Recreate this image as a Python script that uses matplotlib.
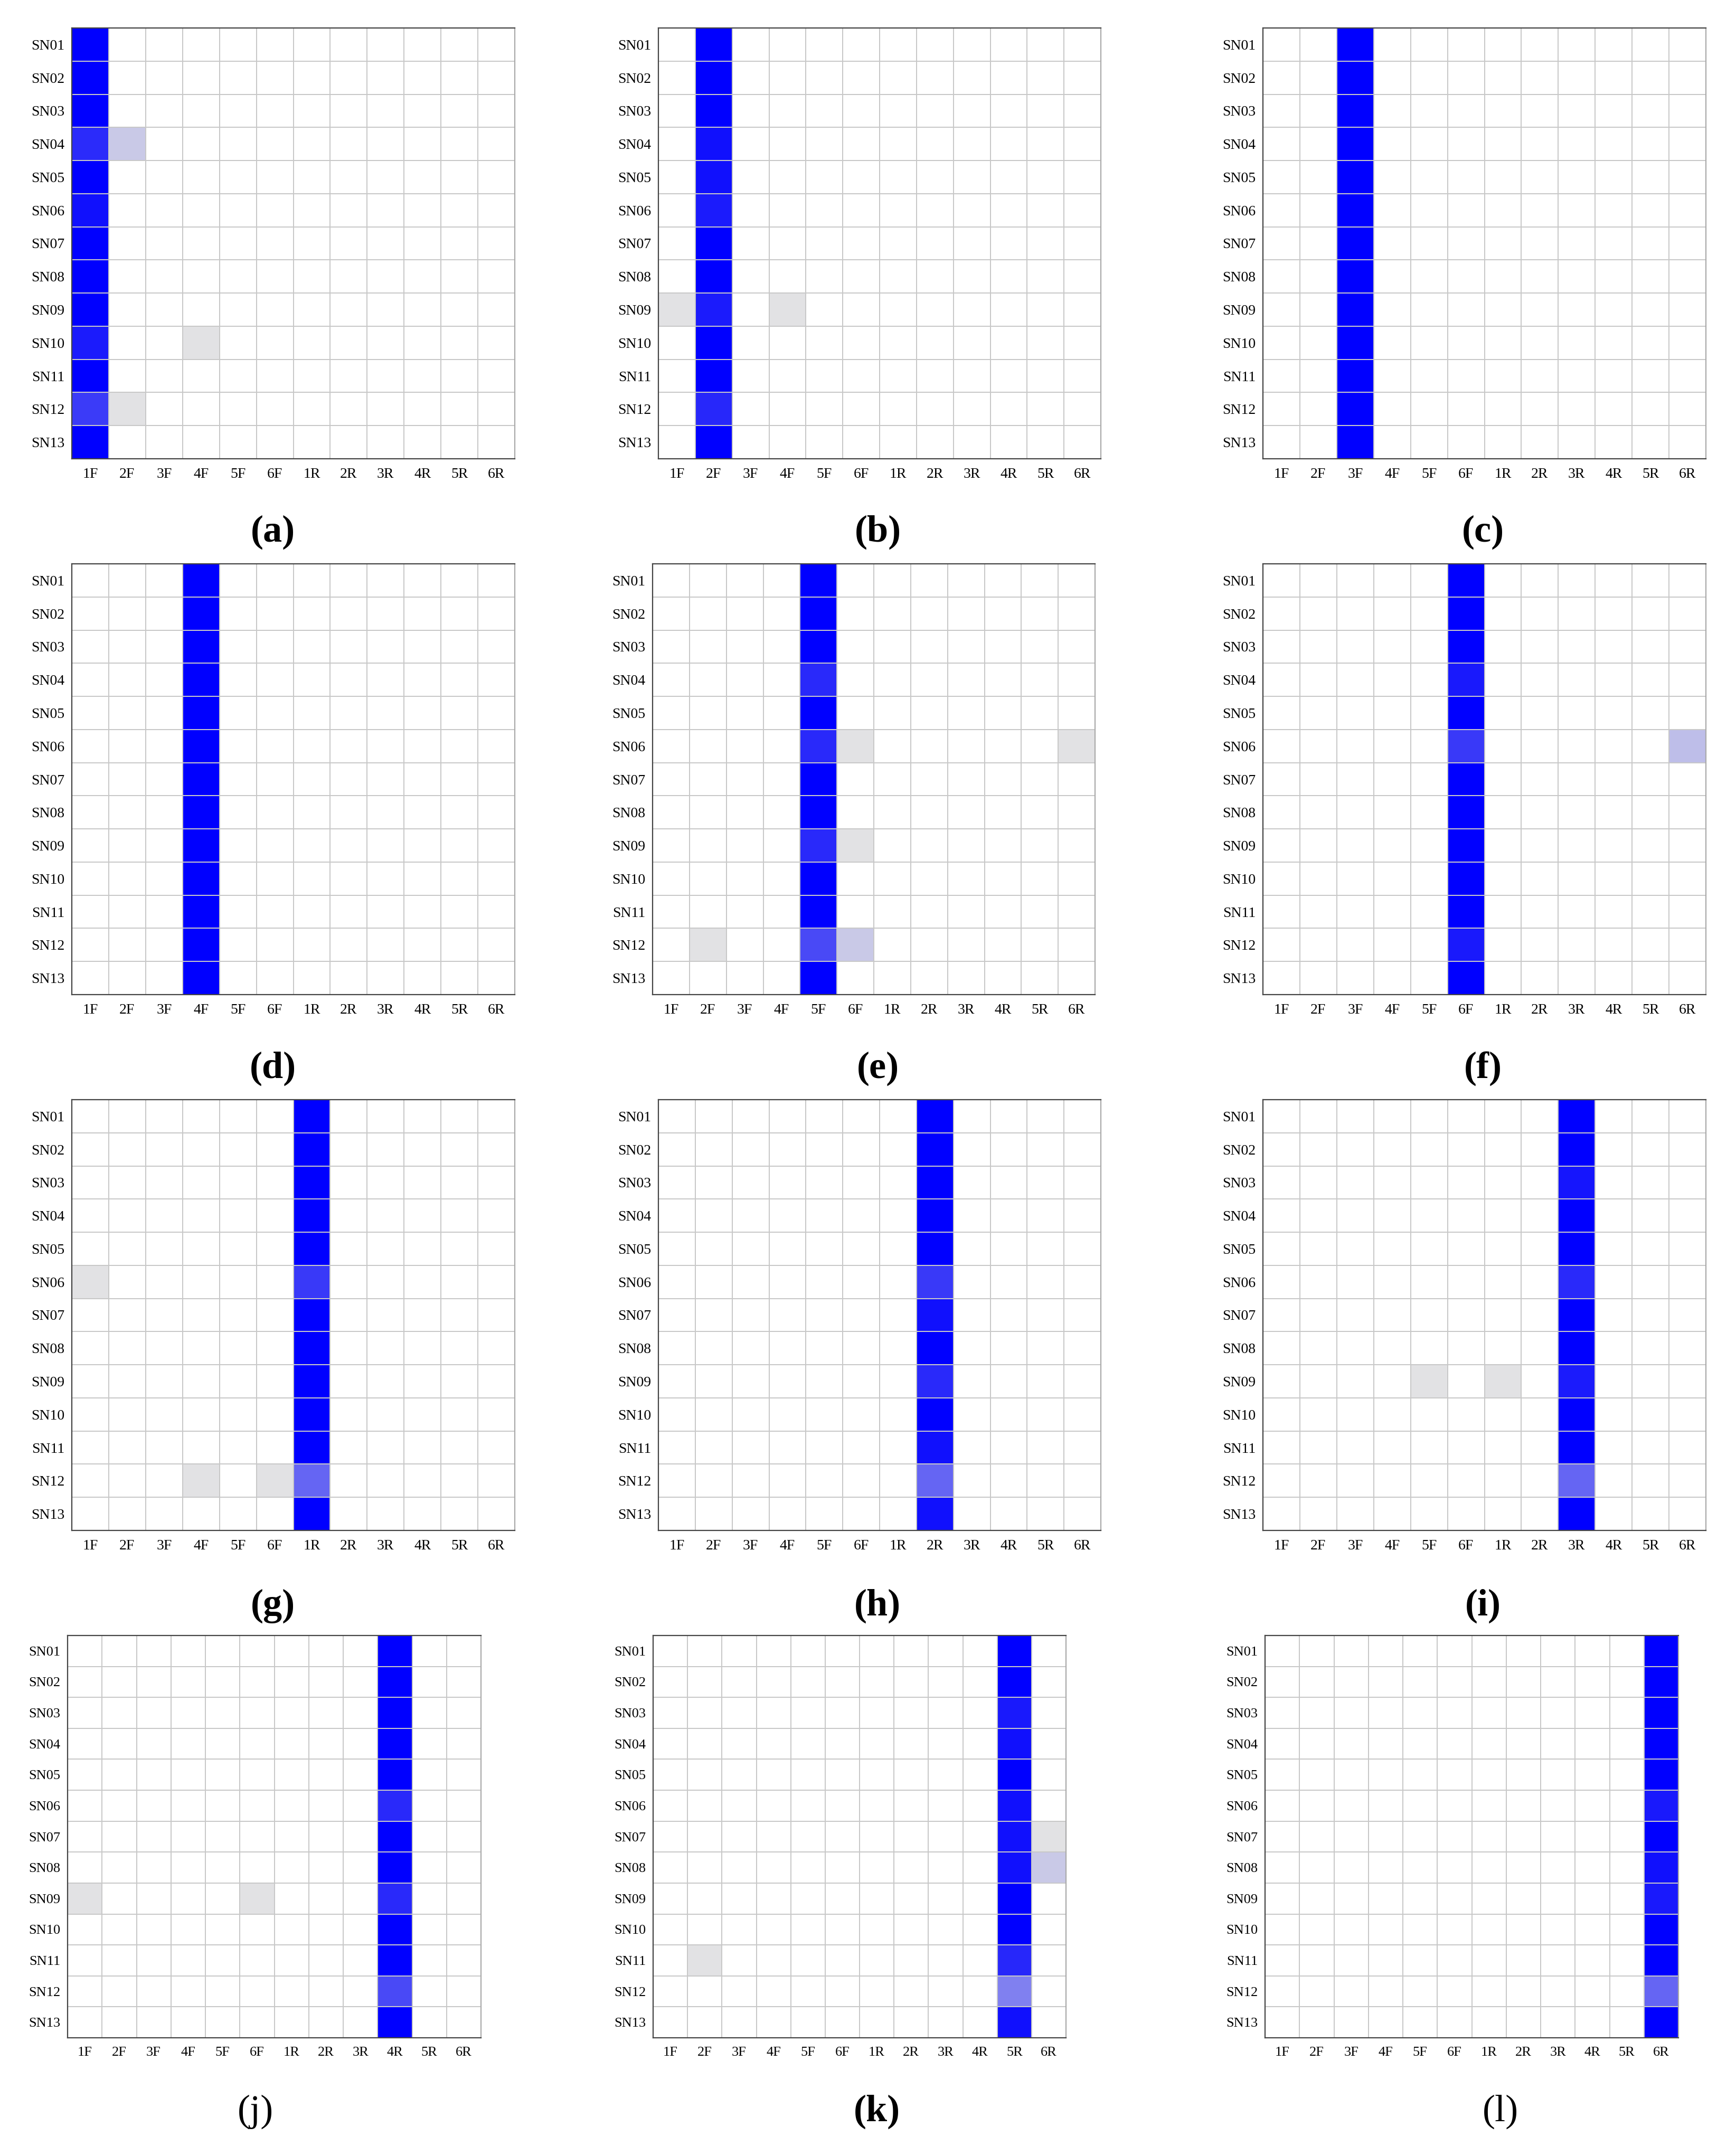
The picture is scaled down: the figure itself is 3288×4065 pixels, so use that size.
import numpy as np
import matplotlib
matplotlib.use('Agg')
import matplotlib.pyplot as plt
from matplotlib.colors import LinearSegmentedColormap

rows = ['SN01', 'SN02', 'SN03', 'SN04', 'SN05', 'SN06', 'SN07',
        'SN08', 'SN09', 'SN10', 'SN11', 'SN12', 'SN13']
cols = ['1F', '2F', '3F', '4F', '5F', '6F', '1R', '2R', '3R', '4R', '5R', '6R']

# main (true class) column per panel, SN01..SN13
main_a = [1, 1, 1, .81, 1, .93, 1, 1, 1, .88, 1, .74, 1]
main_b = [1, 1, 1, .93, .93, .88, 1, 1, .88, 1, 1, .83, 1]
main_c = [1, 1, 1, 1, 1, 1, 1, 1, 1, 1, 1, 1, 1]
main_d = [1, 1, 1, 1, 1, 1, 1, 1, 1, 1, 1, 1, 1]
main_e = [1, 1, 1, .82, 1, .82, 1, 1, .82, 1, 1, .68, 1]
main_f = [1, 1, 1, .89, 1, .75, 1, 1, 1, 1, 1, .89, 1]
main_g = [1, 1, 1, 1, 1, .75, 1, 1, 1, 1, 1, .56, 1]
main_h = [1, 1, 1, 1, 1, .75, .93, 1, .82, 1, .93, .56, .93]
main_i = [1, 1, .91, 1, 1, .82, 1, 1, .88, 1, 1, .56, 1]
main_j = [1, 1, 1, 1, 1, .82, 1, 1, .82, 1, 1, .68, 1]
main_k = [1, 1, .89, .93, 1, .93, .93, .93, 1, 1, .83, .44, .93]
main_l = [1, 1, 1, 1, 1, .89, 1, .93, .89, 1, 1, .56, 1]

# misclassified cells (row, predicted column, value)
extra_a = [('SN04', '2F', .12), ('SN10', '4F', .01), ('SN12', '2F', .01)]
extra_b = [('SN09', '1F', .01), ('SN09', '4F', .01)]
extra_c = []
extra_d = []
extra_e = [('SN06', '6F', .01), ('SN06', '6R', .01), ('SN09', '6F', .01),
           ('SN12', '2F', .01), ('SN12', '6F', .12)]
extra_f = [('SN06', '6R', .17)]
extra_g = [('SN06', '1F', .01), ('SN12', '4F', .01), ('SN12', '6F', .01)]
extra_h = []
extra_i = [('SN09', '5F', .01), ('SN09', '1R', .01)]
extra_j = [('SN09', '1F', .01), ('SN09', '6F', .01)]
extra_k = [('SN07', '6R', .01), ('SN08', '6R', .12), ('SN11', '2F', .01)]
extra_l = []

panels = [
    ('(a)', '1F', main_a, extra_a), ('(b)', '2F', main_b, extra_b),
    ('(c)', '3F', main_c, extra_c), ('(d)', '4F', main_d, extra_d),
    ('(e)', '5F', main_e, extra_e), ('(f)', '6F', main_f, extra_f),
    ('(g)', '1R', main_g, extra_g), ('(h)', '2R', main_h, extra_h),
    ('(i)', '3R', main_i, extra_i), ('(j)', '4R', main_j, extra_j),
    ('(k)', '5R', main_k, extra_k), ('(l)', '6R', main_l, extra_l),
]

# axes boxes in pixels: left, top, right, bottom
boxes = [
    (136, 53, 975, 869), (1247, 53, 2085, 869), (2392, 53, 3231, 869),
    (136, 1068, 975, 1884), (1236, 1068, 2074, 1884), (2392, 1068, 3231, 1884),
    (136, 2083, 975, 2899), (1247, 2083, 2085, 2899), (2392, 2083, 3231, 2899),
    (128, 3098, 911, 3860), (1237, 3098, 2019, 3860), (2396, 3098, 3179, 3860),
]
label_pos = [(517, 1008), (1663, 1008), (2809, 1008),
             (517, 2024), (1663, 2024), (2809, 2024),
             (517, 3042), (1662, 3042), (2809, 3042),
             (484, 4000), (1661, 4000), (2842, 4000)]
label_bold = [True] * 9 + [False, True, False]

plt.rcParams['font.family'] = ['Liberation Serif', 'DejaVu Serif']

W, H = 3288, 4065
fig = plt.figure(figsize=(W / 100, H / 100), dpi=100)

cmap = LinearSegmentedColormap.from_list(
    'wb', [(0, 'white'), (0.002, '#e4e4e4'), (1, '#0000ff')], N=2048)

for i, (lab, true_col, main, extra) in enumerate(panels):
    mat = np.zeros((len(rows), len(cols)))
    mat[:, cols.index(true_col)] = main
    for r, c, v in extra:
        mat[rows.index(r), cols.index(c)] = v

    l, t, r_, b = boxes[i]
    ax = fig.add_axes([l / W, 1 - b / H, (r_ - l) / W, (b - t) / H])
    ax.pcolormesh(np.arange(len(cols) + 1), np.arange(len(rows) + 1), mat,
                  cmap=cmap, vmin=0, vmax=1, edgecolors='#c8c8c8', linewidth=1.4)
    ax.set_xlim(0, len(cols))
    ax.set_ylim(len(rows), 0)
    fs = 19 if i >= 9 else 20
    ax.set_xticks(np.arange(len(cols)) + 0.5)
    ax.set_xticklabels(cols, fontsize=fs)
    ax.set_yticks(np.arange(len(rows)) + 0.5)
    ax.set_yticklabels(rows, fontsize=fs)
    ax.tick_params(axis='y', length=0, pad=10)
    ax.tick_params(axis='x', length=0, pad=12)
    for s in ['left', 'bottom', 'top']:
        ax.spines[s].set_color('#444444')
        ax.spines[s].set_linewidth(1.6)
    ax.spines['right'].set_color('#aaaaaa')
    ax.spines['right'].set_linewidth(1.6)

    lx, ly = label_pos[i]
    fig.text(lx / W, 1 - ly / H, lab, ha='center', va='center', fontsize=52,
             fontweight='bold' if label_bold[i] else 'normal')

fig.savefig('out.png', dpi=100, facecolor='white')
